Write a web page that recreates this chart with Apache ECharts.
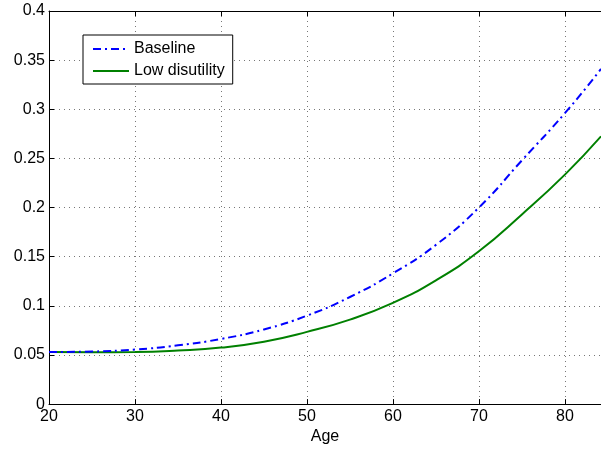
<!DOCTYPE html>
<html>
<head>
<meta charset="utf-8">
<script src="https://cdn.jsdelivr.net/npm/echarts@6/dist/echarts.min.js"></script>
<style>html,body{margin:0;padding:0;background:#fff;overflow:hidden}#c{width:601px;height:450px}</style>
</head>
<body>
<div id="c"></div>
<script>
const ages = [20, 25, 30, 35, 40, 45, 50, 55, 60, 65, 70, 75, 80, 84.2];
const baseline = [0.0530, 0.0535, 0.0555, 0.0598, 0.0663, 0.0760, 0.0900, 0.1090, 0.1330, 0.1620, 0.2000, 0.2480, 0.2960, 0.3410];
const lowDisutility = [0.0530, 0.0528, 0.0530, 0.0545, 0.0575, 0.0635, 0.0735, 0.0860, 0.1030, 0.1260, 0.1555, 0.1930, 0.2335, 0.2725];
const seriesNames = ['Baseline', 'Low disutility'];
const xTicks = [20, 30, 40, 50, 60, 70, 80];
const yTicks = [0, 0.05, 0.1, 0.15, 0.2, 0.25, 0.3, 0.35, 0.4];

const font = 'Liberation Sans, Arial, Helvetica, sans-serif';
const chart = echarts.init(document.getElementById('c'));
const pairs = arr => ages.map((a, i) => [a, arr[i]]);
chart.setOption({
  animation: false,
  backgroundColor: '#fff',
  grid: { left: 49, right: 0, top: 11, bottom: 41, containLabel: false },
  legend: {
    left: 83, top: 35, orient: 'vertical',
    backgroundColor: '#fff', borderColor: '#000', borderWidth: 1,
    padding: [6, 8, 5, 9], itemWidth: 36, itemHeight: 14, itemGap: 6,
    itemStyle: { opacity: 0 },
    textStyle: { fontFamily: font, fontSize: 16, color: '#000' },
    data: seriesNames
  },
  xAxis: [{
    type: 'value', min: 20, max: 84.2, interval: 10,
    name: 'Age', nameLocation: 'middle', nameGap: 22,
    nameTextStyle: { fontFamily: font, fontSize: 16, color: '#000' },
    axisLine: { lineStyle: { color: '#000', width: 1 } },
    axisTick: { inside: true, length: 5, lineStyle: { color: '#000' } },
    axisLabel: { fontFamily: font, fontSize: 16, color: '#000', margin: 4, showMaxLabel: false,
      formatter: v => xTicks.includes(v) ? String(v) : '' },
    splitLine: { show: true, lineStyle: { color: '#777', type: [1, 4], width: 1 } }
  }, {
    type: 'value', position: 'top', min: 20, max: 84.2, interval: 10,
    axisLine: { lineStyle: { color: '#000', width: 1 } },
    axisTick: { inside: true, length: 5, lineStyle: { color: '#000' } },
    axisLabel: { show: false }, splitLine: { show: false }
  }],
  yAxis: {
    type: 'value', min: 0, max: 0.4, interval: 0.05,
    axisLine: { show: true, lineStyle: { color: '#000', width: 1 } },
    axisTick: { inside: true, length: 5, lineStyle: { color: '#000' } },
    axisLabel: { fontFamily: font, fontSize: 16, color: '#000', margin: 4,
      formatter: v => { const t = yTicks.find(y => Math.abs(y - v) < 1e-9); return t === undefined ? '' : String(t); } },
    splitLine: { show: true, lineStyle: { color: '#777', type: [1, 4], width: 1 } }
  },
  series: [{
    name: seriesNames[0], type: 'line', smooth: true, showSymbol: false, symbol: 'none',
    data: pairs(baseline), color: '#0000ff',
    lineStyle: { color: '#0000ff', width: 2, type: [8, 4, 2, 4] }, z: 3
  }, {
    name: seriesNames[1], type: 'line', smooth: true, showSymbol: false, symbol: 'none',
    data: pairs(lowDisutility), color: '#008000',
    lineStyle: { color: '#008000', width: 2 }, z: 2
  }]
});
</script>
</body>
</html>
